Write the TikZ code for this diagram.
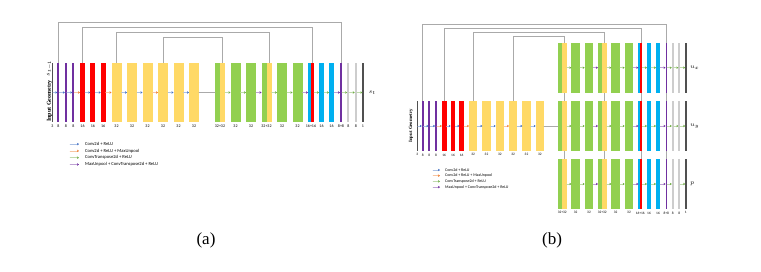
\documentclass[tikz,border=0pt]{standalone}
\usepackage{fontspec}
\newfontfamily\calfont{Carlito}
\newfontfamily\timesfont{Liberation Serif}
\usetikzlibrary{positioning,calc,arrows.meta,backgrounds}

\begin{document}
\begin{tikzpicture}[x=1pt, y=-1pt, line join=round, line cap=round,
    bar/.style={rectangle, inner sep=0pt, outer sep=0pt},
    barlab/.style={inner sep=0pt, font=\calfont\fontsize{4}{4}\selectfont},
    smalllab/.style={inner sep=0pt, font=\calfont\fontsize{3.5}{3.5}\selectfont},
    legtext/.style={inner sep=0pt, anchor=west, font=\calfont\fontsize{4.6}{5}\selectfont},
    smalllegtext/.style={legtext, font=\calfont\fontsize{4}{4.5}\selectfont},
    sidelab/.style={inner sep=0pt, rotate=90, font=\timesfont\bfseries\fontsize{6}{6}\selectfont},
    outlab/.style={inner sep=0pt, font=\fontsize{6}{6}\selectfont},
    caption/.style={inner sep=0pt, font=\timesfont\fontsize{17}{20}\selectfont},
    conv/.style={draw=arrblue!45, line width=0.5pt, -{Stealth[length=2pt, width=2.4pt, color=arrblue]}},
    pool/.style={draw=arrorange!45, line width=0.5pt, -{Stealth[length=2pt, width=2.4pt, color=arrorange]}},
    upconv/.style={draw=arrgreen!45, line width=0.5pt, -{Stealth[length=2pt, width=2.4pt, color=arrgreen]}},
    unpool/.style={draw=arrpurple!45, line width=0.5pt, -{Stealth[length=2pt, width=2.4pt, color=arrpurple]}},
    noarr/.style={draw=none},
    link/.style={draw=skipgray, line width=0.6pt},
    skip/.style={draw=skipgray, line width=0.7pt}]

    % Colours of the layers and the arrows
    \definecolor{barblack}{RGB}{80, 80, 80}
    \definecolor{barpurple}{RGB}{112, 48, 160}
    \definecolor{barred}{RGB}{255, 0, 0}
    \definecolor{baryellow}{RGB}{255, 217, 102}
    \definecolor{bargreen}{RGB}{146, 208, 80}
    \definecolor{barblue}{RGB}{0, 176, 240}
    \definecolor{bargray}{RGB}{205, 205, 205}
    \definecolor{skipgray}{RGB}{170, 170, 170}
    \definecolor{arrblue}{RGB}{68, 114, 196}
    \definecolor{arrorange}{RGB}{237, 125, 49}
    \definecolor{arrgreen}{RGB}{112, 173, 71}
    \definecolor{arrpurple}{RGB}{112, 48, 160}

    \useasboundingbox (0,0) rectangle (761,271);

    % =======================================================
    % (a) ONE OUTPUT
    % =======================================================

    % 1. Layers (second colour fills the right half)
    \foreach \n/\x/\w/\c/\d/\l in {
        0/52.3/1.2pt/barblack/barblack/3,
        1/58.3/2pt/barpurple/barpurple/8,
        2/65.8/2pt/barpurple/barpurple/8,
        3/73.3/2pt/barpurple/barpurple/8,
        4/82.5/5pt/barred/barred/16,
        5/92.8/5pt/barred/barred/16,
        6/103.2/5pt/barred/barred/16,
        7/116.5/10pt/baryellow/baryellow/32,
        8/132/10pt/baryellow/baryellow/32,
        9/147.5/10pt/baryellow/baryellow/32,
        10/163/10pt/baryellow/baryellow/32,
        11/178.5/10pt/baryellow/baryellow/32,
        12/194/10pt/baryellow/baryellow/32,
        13/220/10pt/bargreen/baryellow/32+32,
        14/235.5/10pt/bargreen/bargreen/32,
        15/251/10pt/bargreen/bargreen/32,
        16/266.5/10pt/bargreen/baryellow/32+32,
        17/282/10pt/bargreen/bargreen/32,
        18/297.5/10pt/bargreen/bargreen/32,
        19/311/6pt/barblue/barred/16+16,
        20/321.5/5pt/barblue/barblue/16,
        21/331.5/5pt/barblue/barblue/16,
        22/341/2pt/barpurple/barpurple/8+8,
        23/348.3/2.2pt/bargray/bargray/8,
        24/355.8/2.2pt/bargray/bargray/8,
        25/363/1.2pt/barblack/barblack/1} {
        \node[bar, fill=\c, minimum width=\w, minimum height=59pt] (a\n) at (\x,92.5) {};
        \fill[\d] (a\n.north) rectangle (a\n.south east);
        \node[barlab, below=2.5pt of a\n] (la\n) {\l};
    }

    % 2. Arrows between layers
    \foreach \s [count=\i] in {conv,conv,conv,pool,conv,conv,pool,conv,conv,pool,conv,conv,link,
        upconv,upconv,unpool,upconv,upconv,unpool,upconv,upconv,unpool,upconv,upconv,upconv} {
        \pgfmathtruncatemacro\j{\i-1}
        \draw[\s] (a\j.east) -- (a\i.west);
    }

    % 3. Skip connections
    \begin{scope}[on background layer]
        \draw[skip] (a1.north) -- ++(0,-41) -| (a22.north);
        \draw[skip] (a4.north) -- ++(0,-36) -| ($(a19.north)!.5!(a19.north east)$);
        \draw[skip] (a7.north) -- ++(0,-31) -| ($(a16.north)!.5!(a16.north east)$);
        \draw[skip] (a10.north) -- ++(0,-26) -| ($(a13.north)!.5!(a13.north east)$);
    \end{scope}

    % 4. Input and output labels
    \node[sidelab] (inga) at (49.5,101) {Input Geometry};
    \node[sidelab] (sprev) at (49.5,68.5) {$s_{t-1}$};
    \node[outlab, right=5pt of a25] (snext) {$s_t$};

    % 5. Legend
    \foreach \s/\t [count=\i] in {conv/Conv2d + ReLU, pool/Conv2d + ReLU + MaxUnpool,
        upconv/ConvTranspose2d + ReLU, unpool/MaxUnpool + ConvTranspose2d + ReLU} {
        \node[legtext] (lga\i) at (85,137.3+6.8*\i) {\t};
        \draw[\s] ([xshift=-15pt]lga\i.west) -- ([xshift=-6pt]lga\i.west);
    }

    \node[caption] (capa) at (206,240) {(a)};

    % =======================================================
    % (b) THREE OUTPUTS
    % =======================================================

    % 1. Encoder
    \foreach \n/\x/\w/\c/\l in {
        0/417.3/1pt/barblack/3,
        1/422.7/1.8pt/barpurple/8,
        2/429.3/1.8pt/barpurple/8,
        3/436/1.8pt/barpurple/8,
        4/444.2/4.7pt/barred/16,
        5/453/4.7pt/barred/16,
        6/461.7/4.7pt/barred/16,
        7/473.2/8.3pt/baryellow/32,
        8/486.5/8.3pt/baryellow/32,
        9/499.8/8.3pt/baryellow/32,
        10/513.2/8.3pt/baryellow/32,
        11/526.5/8.3pt/baryellow/32,
        12/539.8/8.3pt/baryellow/32} {
        \node[bar, fill=\c, minimum width=\w, minimum height=50pt] (e\n) at (\x,126) {};
        \node[smalllab, below=2.5pt of e\n] (le\n) {\l};
    }
    \foreach \s [count=\i] in {conv,conv,conv,pool,conv,conv,pool,conv,conv,pool,conv,conv} {
        \pgfmathtruncatemacro\j{\i-1}
        \draw[\s] (e\j.east) -- (e\i.west);
    }

    % 2. Three decoders
    \foreach \r/\y/\o/\gg in {x/67.7/{$u_x$}/upconv, y/126/{$u_y$}/upconv, p/184/{$p$}/noarr} {
        \foreach \n/\x/\w/\c/\d in {
            0/562.3/8.7pt/bargreen/baryellow,
            1/575.7/8.7pt/bargreen/bargreen,
            2/589/8.7pt/bargreen/bargreen,
            3/602.3/8.7pt/bargreen/baryellow,
            4/615.7/8.7pt/bargreen/bargreen,
            5/629/8.7pt/bargreen/bargreen,
            6/640.3/4pt/barblue/barred,
            7/649/4pt/barblue/barblue,
            8/658/4pt/barblue/barblue,
            9/666.3/1.5pt/barpurple/barpurple,
            10/672.7/1.8pt/bargray/bargray,
            11/679.3/1.8pt/bargray/bargray,
            12/685.7/1pt/barblack/barblack} {
            \node[bar, fill=\c, minimum width=\w, minimum height=50pt] (d\r\n) at (\x,\y) {};
            \fill[\d] (d\r\n.north) rectangle (d\r\n.south east);
        }
        \foreach \s [count=\i] in {upconv,upconv,unpool,upconv,upconv,unpool,upconv,upconv,unpool,upconv,\gg,upconv} {
            \pgfmathtruncatemacro\j{\i-1}
            \draw[\s] (d\r\j.east) -- (d\r\i.west);
        }
        \node[outlab, right=4pt of d\r12] (o\r) {\o};
    }
    \foreach \n/\l in {0/32+32, 1/32, 2/32, 3/32+32, 4/32, 5/32, 6/16+16,
        7/16, 8/16, 9/8+8, 10/8, 11/8, 12/1} {
        \node[smalllab, below=2.5pt of dp\n] (ld\n) {\l};
    }

    % 3. Encoder to decoder
    \draw[link] (e12.east) -- (dy0.west);

    % 4. Skip connections (run behind the decoders)
    \begin{scope}[on background layer]
        \draw[skip] (e1.north) -- ++(0,-77) -| (dp9.north);
        \draw[skip] (e4.north) -- ++(0,-72.7) -| ($(dp6.north)!.5!(dp6.north east)$);
        \draw[skip] (e7.north) -- ++(0,-68.3) -| ($(dp3.north)!.5!(dp3.north east)$);
        \draw[skip] (e10.north) -- ++(0,-64.3) -| ($(dp0.north)!.5!(dp0.north east)$);
    \end{scope}

    \node[sidelab, font=\timesfont\bfseries\fontsize{4.8}{5}\selectfont] (ingb) at (411,126) {Input Geometry};

    % 5. Legend
    \foreach \s/\t [count=\i] in {conv/Conv2d + ReLU, pool/Conv2d + ReLU + MaxUnpool,
        upconv/ConvTranspose2d + ReLU, unpool/MaxUnpool + ConvTranspose2d + ReLU} {
        \node[smalllegtext] (lgb\i) at (445,164.3+5.7*\i) {\t};
        \draw[\s] ([xshift=-12pt]lgb\i.west) -- ([xshift=-5pt]lgb\i.west);
    }

    \node[caption] (capb) at (552,240) {(b)};

\end{tikzpicture}
\end{document}
